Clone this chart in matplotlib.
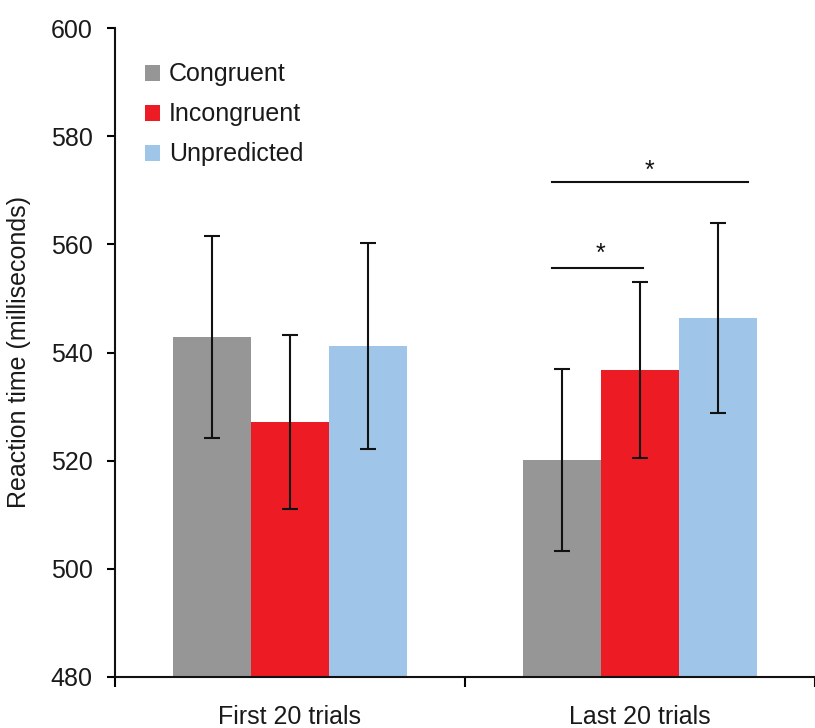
import matplotlib
matplotlib.use("Agg")
import matplotlib.pyplot as plt
from matplotlib.patches import Patch
import numpy as np

plt.rcParams['font.family'] = ['Liberation Sans', 'DejaVu Sans']

groups = ['First 20 trials', 'Last 20 trials']
series_names = ['Congruent', 'Incongruent', 'Unpredicted']
congruent = [542.8, 520.1]
congruent_err = [18.7, 16.8]
incongruent = [527.2, 536.8]
incongruent_err = [16.1, 16.3]
unpredicted = [541.2, 546.4]
unpredicted_err = [19.0, 17.5]
y_ticks = [480, 500, 520, 540, 560, 580, 600]

colors = ['#969696', '#ED1C24', '#9FC5E8']
values = [congruent, incongruent, unpredicted]
errors = [congruent_err, incongruent_err, unpredicted_err]

fig = plt.figure(figsize=(8.15, 7.28), dpi=100)
ax = fig.add_axes([115/815, 51/728, 700/815, 649/728])

centers = np.array([0.5, 1.5])
w = 0.2232
for i, (vals, errs, c) in enumerate(zip(values, errors, colors)):
    x = centers + (i - 1) * w
    ax.bar(x, vals, width=w, color=c, edgecolor='none', zorder=2)
    ax.errorbar(x, vals, yerr=errs, fmt='none', ecolor='#111111',
                elinewidth=1.5, capsize=6, capthick=1.5, zorder=3)

ax.set_ylim(480, 600)
ax.set_xlim(0, 700/354)
ax.set_yticks(y_ticks)
ax.set_xticks([0, 1, 2])
ax.set_xticklabels(['', '', ''])
ax.set_xticks(centers, minor=True)
ax.set_xticklabels(groups, minor=True)
ax.tick_params(axis='x', which='minor', length=0, pad=20, labelsize=18, labelcolor='#1a1a1a')
ax.tick_params(axis='x', which='major', length=7, width=1.5, direction='out')
ax.tick_params(axis='y', length=6, width=1.5, direction='out', pad=10,
               labelsize=18, labelcolor='#1a1a1a')

for s in ['top', 'right']:
    ax.spines[s].set_visible(False)
for s in ['left', 'bottom']:
    ax.spines[s].set_linewidth(1.5)
    ax.spines[s].set_color('#111111')

ax.set_ylabel('Reaction time (milliseconds)', fontsize=18, color='#1a1a1a')
ax.yaxis.set_label_coords(-0.12, 0.5)

# significance markers
ax.plot([1.248, 1.808], [571.5, 571.5], color='#111111', lw=1.5, zorder=3)
ax.text(1.528, 572.3, '*', fontsize=18, ha='center', va='baseline', color='#111111')
ax.plot([1.248, 1.508], [555.6, 555.6], color='#111111', lw=1.5, zorder=3)
ax.text(1.386, 556.9, '*', fontsize=18, ha='center', va='baseline', color='#111111')

handles = [Patch(facecolor=c, edgecolor='none') for c in colors]
ax.legend(handles, series_names, loc='upper left', bbox_to_anchor=(0.043, 0.947),
          frameon=False, fontsize=18, handlelength=0.6, handleheight=0.6,
          handletextpad=0.35, labelspacing=0.64, borderpad=0, borderaxespad=0,
          labelcolor='#1a1a1a')

fig.savefig('out.png', dpi=100)
